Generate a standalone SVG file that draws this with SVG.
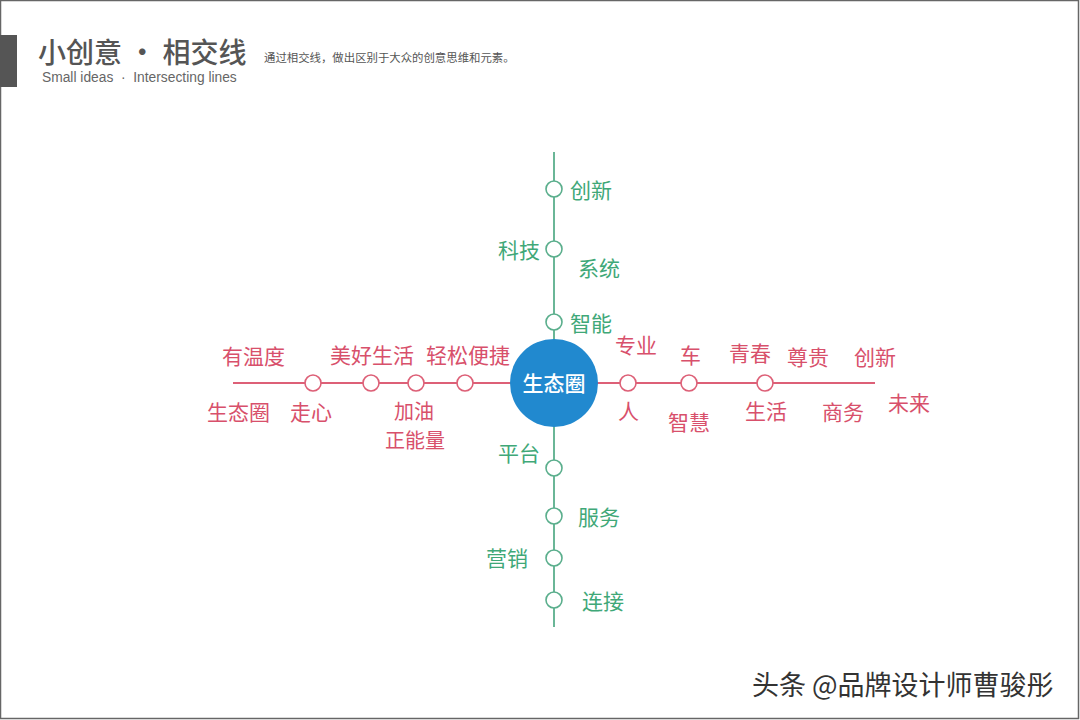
<svg xmlns="http://www.w3.org/2000/svg" width="1080" height="720" viewBox="0 0 1080 720">
<style>
text{font-family:"Noto Sans CJK SC","Noto Sans",sans-serif;}
.g{fill:#3fa878;font-size:21px;dominant-baseline:central;}
.r{fill:#d8506b;font-size:21px;dominant-baseline:central;}
.gn{fill:#fff;stroke:#5aae8c;stroke-width:1.6;}
.rn{fill:#fff;stroke:#dd6077;stroke-width:1.6;}
</style>
<rect x="0" y="0" width="1080" height="720" fill="#fff"/>
<rect x="0.5" y="0.5" width="1078" height="718" fill="none" stroke="#666" stroke-width="1.5"/>
<g id="header">
<rect x="0" y="35" width="17" height="52" fill="#555"/>
<text x="38" y="63" font-size="28" fill="#555" font-weight="500">小创意 · 相交线</text>
<text x="264" y="62" font-size="11.4" fill="#555">通过相交线，做出区别于大众的创意思维和元素。</text>
<text x="42" y="82" font-size="13.8" fill="#666" xml:space="preserve" style="font-family:'Liberation Sans',Arial,sans-serif;white-space:pre">Small ideas  ·  Intersecting lines</text>
</g>
<g id="connectors">
<line x1="554" y1="152" x2="554" y2="627" stroke="#5aae8c" stroke-width="1.8"/>
<line x1="233" y1="383" x2="875" y2="383" stroke="#dd6077" stroke-width="1.8"/>
</g>
<g id="v-nodes">
<circle class="gn" cx="554" cy="189" r="8"/>
<circle class="gn" cx="554" cy="249" r="8"/>
<circle class="gn" cx="554" cy="322" r="8"/>
<circle class="gn" cx="554" cy="468" r="8"/>
<circle class="gn" cx="554" cy="516" r="8"/>
<circle class="gn" cx="554" cy="558" r="8"/>
<circle class="gn" cx="554" cy="600" r="8"/>
</g>
<g id="h-nodes">
<circle class="rn" cx="313" cy="383" r="8"/>
<circle class="rn" cx="371" cy="383" r="8"/>
<circle class="rn" cx="416" cy="383" r="8"/>
<circle class="rn" cx="465" cy="383" r="8"/>
<circle class="rn" cx="628" cy="383" r="8"/>
<circle class="rn" cx="689" cy="383" r="8"/>
<circle class="rn" cx="765" cy="383" r="8"/>
</g>
<g id="center">
<circle cx="554" cy="383" r="44" fill="#2189cf"/>
<text x="554" y="382" font-size="21" fill="#fff" text-anchor="middle" dominant-baseline="central" font-weight="500">生态圈</text>
</g>
<g id="v-labels">
<text class="g" x="570" y="189">创新</text>
<text class="g" x="540" y="249" text-anchor="end">科技</text>
<text class="g" x="578" y="267">系统</text>
<text class="g" x="570" y="322">智能</text>
<text class="g" x="540" y="452" text-anchor="end">平台</text>
<text class="g" x="578" y="516">服务</text>
<text class="g" x="528" y="557" text-anchor="end">营销</text>
<text class="g" x="582" y="600">连接</text>
</g>
<g id="h-labels">
<text class="r" x="222" y="355">有温度</text>
<text class="r" x="330" y="354">美好生活</text>
<text class="r" x="426" y="354">轻松便捷</text>
<text class="r" x="207" y="411">生态圈</text>
<text class="r" x="290" y="411">走心</text>
<text class="r" x="394" y="410" style="font-size:20px">加油</text>
<text class="r" x="385" y="439" style="font-size:20px">正能量</text>
<text class="r" x="615" y="344">专业</text>
<text class="r" x="680" y="354">车</text>
<text class="r" x="729" y="352">青春</text>
<text class="r" x="787" y="356">尊贵</text>
<text class="r" x="854" y="356">创新</text>
<text class="r" x="618" y="410">人</text>
<text class="r" x="668" y="421">智慧</text>
<text class="r" x="745" y="410">生活</text>
<text class="r" x="822" y="411">商务</text>
<text class="r" x="888" y="402">未来</text>
</g>
<g id="watermark">
<text x="752" y="695" font-size="27" fill="#fff" stroke="#fff" stroke-width="3">头条 @品牌设计师曹骏彤</text>
<text x="752" y="695" font-size="27" fill="#333">头条 @品牌设计师曹骏彤</text>
</g>
</svg>
